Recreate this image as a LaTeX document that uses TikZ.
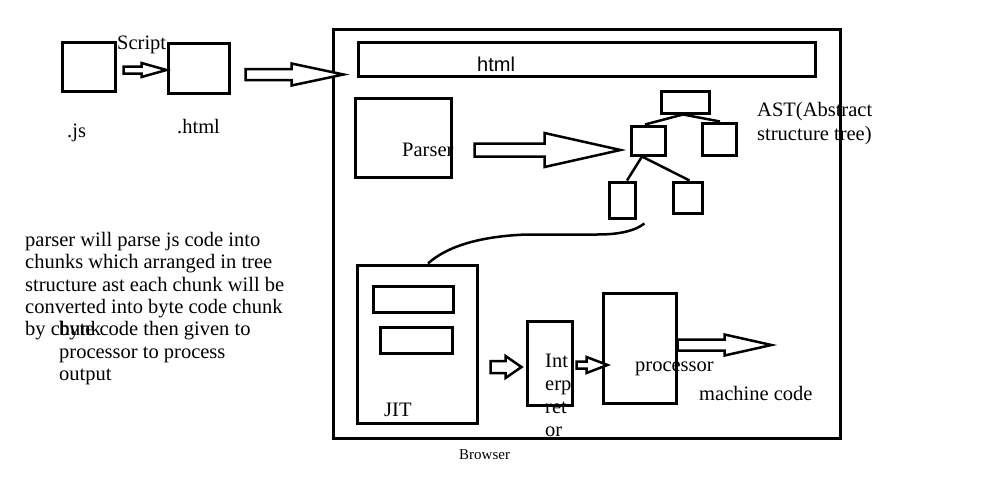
\documentclass[tikz,border=0pt]{standalone}
\usepackage{fontspec}
\setmainfont{Liberation Serif}
\newfontfamily\sansfont{Liberation Sans}
\usetikzlibrary{fit,calc}

\tikzset{
  box/.style={draw, line width=3pt, inner sep=0pt},
  barrow/.style={draw, line width=2.5pt, line join=miter, fill=white},
  link/.style={line width=2.5pt},
  lbl/.style={font=\fontsize{20.5}{22}\selectfont, inner sep=0pt, anchor=base west},
  small/.style={font=\fontsize{15}{17}\selectfont, inner sep=0pt, anchor=base west},
}

% Hollow block arrow: start point, tip point, shaft half-height, head half-height, head length
\newcommand\blockarrow[5]{%
  \draw[barrow] let \p1=(#1), \p2=(#2) in
    (\x1,\y2+#3pt) -- (\x2-#5pt,\y2+#3pt) -- (\x2-#5pt,\y2+#4pt) -- (\x2,\y2)
    -- (\x2-#5pt,\y2-#4pt) -- (\x2-#5pt,\y2-#3pt) -- (\x1,\y2-#3pt) -- cycle;}

\begin{document}
\begin{tikzpicture}[x=1pt,y=-1pt]
\useasboundingbox (0,0) rectangle (1000,480);
\fill[white] (0,0) rectangle (1000,480);

% source files
\node[box, fit={(62,42) (115,91)}] (js) {};
\node[box, fit={(168,43) (229,93)}] (htmlfile) {};
\node[lbl] (scriptlbl) at (117,49) {Script};
\node[lbl] (jslbl) at (67,137) {.js};
\node[lbl] (htmllbl) at (177,133) {.html};

% browser frame and its parts
\node[box, fit={(333,29) (840,438)}] (browser) {};
\node[box, fit={(358,42) (815,76)}] (htmlbar) {};
\node[lbl, font=\sansfont\fontsize{20}{22}\selectfont] (htmlbarlbl) at (477,71) {html};
\node[box, fit={(355,98) (451,177)}] (parser) {};
\node[lbl] (parserlbl) at (402,156) {Parser};

% abstract syntax tree
\node[box, fit={(661,91) (709,113)}] (root) {};
\node[box, fit={(631,126) (665,155)}] (astL) {};
\node[box, fit={(702,123) (736,155)}] (astR) {};
\node[box, fit={(609,182) (635,218)}] (astLL) {};
\node[box, fit={(673,182) (702,213)}] (astLR) {};
\draw[link] ([xshift=-2pt]root.south) -- ([xshift=-3pt]astL.north);
\draw[link] ([xshift=-2pt]root.south) -- ([xshift=1pt]astR.north);
\draw[link] ([xshift=-6pt]astL.south) -- ([xshift=5pt]astLL.north);
\draw[link] ([xshift=-6pt]astL.south) -- ([xshift=2pt]astLR.north);
\node[lbl] (astlbl1) at (757,116) {AST(Abstract};
\node[lbl] (astlbl2) at (757,140) {structure tree)};

% JIT compiler
\node[box, fit={(357,265) (477,423)}] (jit) {};
\node[box, fit={(373,286) (453,312)}] (jitA) {};
\node[box, fit={(380,327) (452,353)}] (jitB) {};
\node[lbl] (jitlbl) at (384,416) {JIT};

% interpreter and processor
\node[box, fit={(527,321) (572,405)}] (interp) {};
\node[lbl] (interp1) at (545,367) {Int};
\node[lbl] (interp2) at (545,390) {erp};
\node[lbl] (interp3) at (545,413) {ret};
\node[lbl] (interp4) at (545,436) {or};
\node[box, fit={(603,293) (676,403)}] (proc) {};
\node[lbl] (proclbl) at (635,371) {processor};
\node[lbl] (mclbl) at (699,400) {machine code};
\node[small] (browserlbl) at (459,459) {Browser};

% tree to JIT link
\coordinate (treeout) at ([xshift=8pt,yshift=-4pt]astLL.south east);
\draw[link] (treeout) .. controls ([xshift=-12pt,yshift=-9pt]treeout) and ([xshift=-30pt,yshift=-11pt]treeout) .. ([xshift=-48pt,yshift=-11pt]treeout)
  -- ([xshift=-118pt,yshift=-11pt]treeout)
  .. controls ([xshift=-170pt,yshift=-13pt]treeout) and ([xshift=-200pt,yshift=-25pt]treeout) .. ([xshift=11pt]jit.north);

% block arrows
\coordinate (a1s) at ([xshift=7pt,yshift=-3.5pt]js.east);
\coordinate (a1t) at (htmlfile.west |- a1s);
\blockarrow{a1s}{a1t}{3.5}{7}{25}
\coordinate (a2s) at ([xshift=15pt,yshift=-6.5pt]htmlfile.east);
\coordinate (a2t) at ([xshift=12pt]browser.west |- a2s);
\blockarrow{a2s}{a2t}{5.5}{11}{52}
\coordinate (a3s) at ([xshift=22pt,yshift=-12.5pt]parser.east);
\coordinate (a3t) at ([xshift=-9pt]astL.west |- a3s);
\blockarrow{a3s}{a3t}{6.5}{17}{76}
\coordinate (a4s) at ([xshift=12pt,yshift=-23pt]jit.east);
\coordinate (a4t) at ([xshift=-4pt]interp.west |- a4s);
\blockarrow{a4s}{a4t}{6}{11}{16}
\coordinate (a5s) at ([xshift=3pt,yshift=-2pt]interp.east);
\coordinate (a5t) at ([xshift=6pt]proc.west |- a5s);
\blockarrow{a5s}{a5t}{3.5}{8}{21}
\coordinate (a6s) at ([yshift=3pt]proc.east);
\coordinate (a6t) at ([xshift=94pt]a6s);
\blockarrow{a6s}{a6t}{5.5}{10.5}{47}

% explanatory note
\node[lbl] (note1) at (25,246) {parser will parse js code into};
\node[lbl] (note2) at (25,268) {chunks which arranged in tree};
\node[lbl] (note3) at (25,291) {structure ast each chunk will be};
\node[lbl] (note4) at (25,313) {converted into byte code chunk};
\node[lbl] (note5) at (25,335) {by chunk};
\node[lbl] (note6) at (59,335) {byte code then given to};
\node[lbl] (note7) at (59,358) {processor to process};
\node[lbl] (note8) at (59,380) {output};
\end{tikzpicture}
\end{document}
